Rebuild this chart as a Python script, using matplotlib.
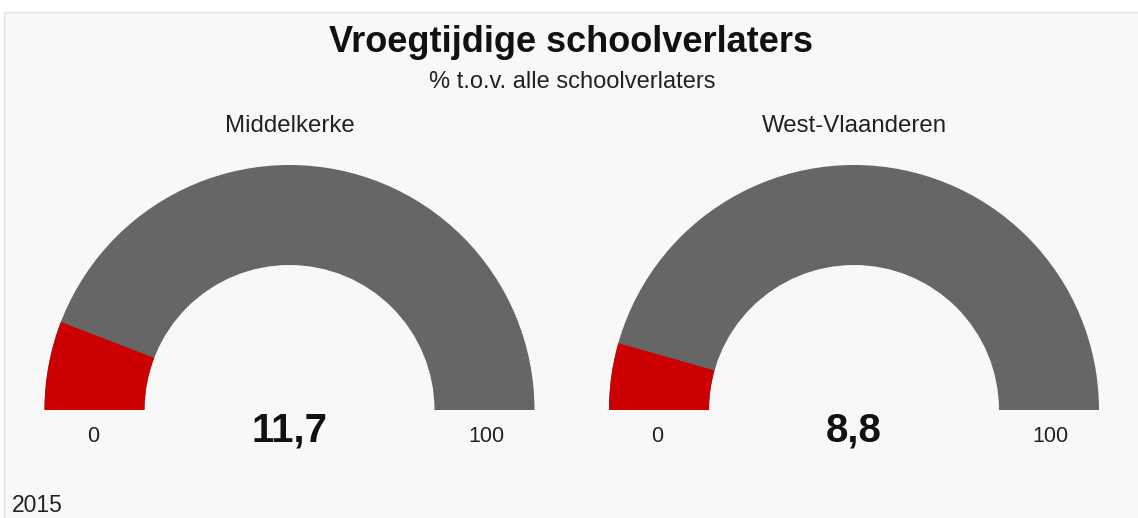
import matplotlib.pyplot as plt
from matplotlib.patches import Wedge, Rectangle

# gauge data
regions = ["Middelkerke", "West-Vlaanderen"]
values = [11.7, 8.8]
value_labels = ["11,7", "8,8"]
gauge_min = 0
gauge_max = 100
year = "2015"

title = "Vroegtijdige schoolverlaters"
subtitle = "% t.o.v. alle schoolverlaters"

W, H = 1138, 518
plt.rcParams['font.family'] = ['Liberation Sans', 'DejaVu Sans']

fig = plt.figure(figsize=(W / 100, H / 100), dpi=100)
fig.patch.set_facecolor('white')
ax = fig.add_axes([0, 0, 1, 1])
ax.set_xlim(0, W)
ax.set_ylim(H, 0)
ax.axis('off')

# panel background
ax.add_patch(Rectangle((4, 12), W, H, facecolor='#f8f8f8',
                       edgecolor='#e4e4e4', linewidth=1))

ax.text(571, 52, title, ha='center', va='baseline', fontsize=26,
        fontweight='bold', color='#111111')
ax.text(572, 88, subtitle, ha='center', va='baseline', fontsize=17,
        color='#222222')

centers = [289.5, 854]
cy = 410
r_out = 245
r_in = 145

for cx, name, val, lab in zip(centers, regions, values, value_labels):
    frac = (val - gauge_min) / (gauge_max - gauge_min)
    split = 180 - 180 * frac
    # y axis is inverted, so angles are mirrored
    ax.add_patch(Wedge((cx, cy), r_out, 180, 360, width=r_out - r_in,
                       facecolor='#666666', edgecolor='none'))
    ax.add_patch(Wedge((cx, cy), r_out, 180, 360 - split, width=r_out - r_in,
                       facecolor='#cc0000', edgecolor='none'))
    ax.text(cx, 132, name, ha='center', va='baseline', fontsize=17.3,
            color='#222222')
    mid = 196.5
    ax.text(cx - mid, 442, str(gauge_min), ha='center', va='baseline',
            fontsize=15.5, color='#222222')
    ax.text(cx + mid, 442, str(gauge_max), ha='center', va='baseline',
            fontsize=15.5, color='#222222')
    ax.text(cx, 442, lab, ha='center', va='baseline', fontsize=29,
            fontweight='bold', color='#111111')

ax.text(12, 512, year, ha='left', va='baseline', fontsize=16.5, color='#222222')

fig.savefig('out.png', dpi=100, facecolor=fig.get_facecolor())
